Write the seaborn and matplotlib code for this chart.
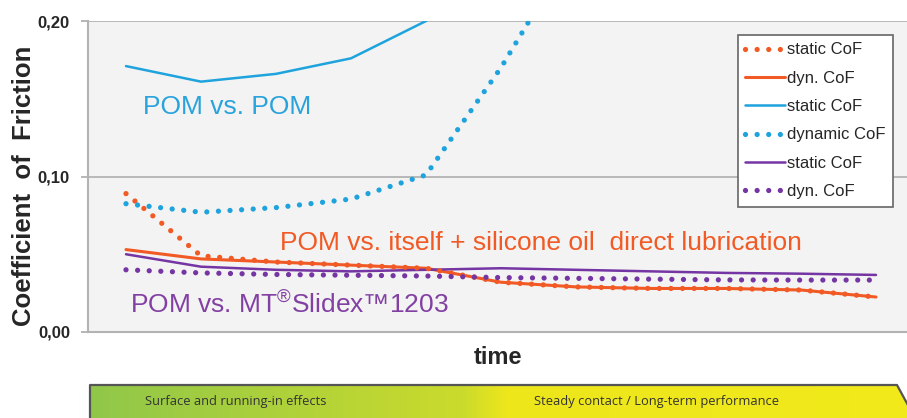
import matplotlib
matplotlib.use('Agg')
import matplotlib.pyplot as plt
import matplotlib.colors as mcolors
from matplotlib.patches import Polygon
import numpy as np
import pandas as pd
import seaborn as sns

# Daten - data
time_idx = [0, 1, 2, 3, 4, 5, 6, 7, 8, 9, 10]
orange_static = [0.089, 0.049, 0.045, 0.043, 0.041, 0.032, 0.029, 0.028, 0.028, 0.027, 0.0225]
orange_dyn = [0.053, 0.047, 0.045, 0.043, 0.041, 0.032, 0.029, 0.028, 0.028, 0.027, 0.0225]
blue_static = [0.171, 0.161, 0.166, 0.176, 0.200, 0.240]
blue_dynamic = [0.0825, 0.077, 0.080, 0.0855, 0.101, 0.170, 0.250]
purple_static = [0.050, 0.042, 0.040, 0.039, 0.040, 0.041, 0.040, 0.039, 0.038, 0.0375, 0.0367]
purple_dyn = [0.040, 0.038, 0.037, 0.0365, 0.036, 0.035, 0.0345, 0.034, 0.0335, 0.0334, 0.0334]

yticks = [0.0, 0.1, 0.2]
ytick_labels = ['0,00', '0,10', '0,20']

ORANGE = '#f15a24'
BLUE = '#1fa3dd'
PURPLE = '#7535a3'
dotted = (0, (0.001, 2.2))

sns.set_style('white')
plt.rcParams['font.family'] = ['Liberation Sans', 'DejaVu Sans']
plt.rcParams['mathtext.fontset'] = 'custom'
plt.rcParams['mathtext.rm'] = 'Liberation Sans'
plt.rcParams['mathtext.default'] = 'regular'

fig = plt.figure(figsize=(9.07, 4.18), dpi=100)
ax = fig.add_axes([88 / 907, 1 - 332 / 418, 1 - 88 / 907, 311 / 418])
ax.set_facecolor('#f3f3f3')

series = [
    (orange_static, ORANGE, dotted, 'static CoF', 3.8, 4),
    (orange_dyn, ORANGE, '-', 'dyn. CoF', 2.2, 3),
    (blue_static, BLUE, '-', 'static CoF', 1.8, 3),
    (blue_dynamic, BLUE, dotted, 'dynamic CoF', 3.8, 4),
    (purple_static, PURPLE, '-', 'static CoF', 1.8, 3),
    (purple_dyn, PURPLE, dotted, 'dyn. CoF', 3.8, 4),
]
for vals, col, ls, lab, lw, z in series:
    sns.lineplot(x=time_idx[:len(vals)], y=vals, color=col, linestyle=ls, linewidth=lw,
                 dash_capstyle='round', label=lab, ax=ax, zorder=z)

ax.set_xlim((88 - 126) / 75, (907 - 126) / 75)
ax.set_ylim(0, 0.2)
ax.set_xticks([])
ax.set_yticks(yticks)
ax.set_yticklabels(ytick_labels, fontsize=12, fontweight='bold')
ax.tick_params(axis='y', length=5, width=1.2, color='#aaaaaa', pad=8, left=True)
for y in yticks[1:]:
    ax.axhline(y, color='#b3b3b3', lw=1.3, zorder=1)
for s in ['top', 'right']:
    ax.spines[s].set_visible(False)
for s in ['left', 'bottom']:
    ax.spines[s].set_color('#b3b3b3')
    ax.spines[s].set_linewidth(1.5)

ax.set_ylabel('Coefficient  of  Friction', fontsize=18.5, fontweight='bold')
ax.yaxis.set_label_coords(-0.064, 0.47)
ax.set_xlabel('time', fontsize=17, fontweight='bold', labelpad=10)

# Beschriftungen - annotations
ax.text((143 - 126) / 75, 0.145, 'POM vs. POM', color='#2aa3dc', fontsize=19, va='center')
ax.text((280 - 126) / 75, 0.0575, 'POM vs. itself + silicone oil  direct lubrication',
        color=ORANGE, fontsize=19, va='center')
ax.text((130 - 126) / 75, 0.0175, 'POM vs. MT$^{\u00ae}$Slidex\u21221203', color='#8240a3',
        fontsize=19, va='center')

leg = ax.legend(loc='upper right', bbox_to_anchor=((893 - 88) / 819, (332 - 35) / 311),
                borderaxespad=0, fontsize=12, handlelength=2.4, handletextpad=0.1,
                labelspacing=0.8, frameon=True, fancybox=False, framealpha=1,
                borderpad=0.45)
leg.get_frame().set_edgecolor('#666666')
leg.get_frame().set_linewidth(1.2)

# Zeitpfeil - time arrow with gradient
bx = fig.add_axes([0, 0, 1, 33 / 418])
bx.set_xlim(0, 907)
bx.set_ylim(0, 33)
bx.axis('off')
cmap = mcolors.LinearSegmentedColormap.from_list(
    'gy', [(0, '#90c74a'), (0.45, '#cbdb2c'), (0.5, '#ece61c'), (1, '#f2ea1a')])
grad = np.linspace(0, 1, 512).reshape(1, -1)
im = bx.imshow(grad, cmap=cmap, extent=[90, 920, -5, 33], aspect='auto')
arrow = Polygon([(90, -5), (90, 33), (897, 33), (915, 0), (917, -5)], closed=True,
                facecolor='none', edgecolor='none')
bx.add_patch(arrow)
im.set_clip_path(arrow)
bx.plot([90, 90, 897, 915], [-5, 33, 33, 0], color='#555555', lw=1.6, clip_on=False)
bx.text(236, 16, 'Surface and running-in effects', fontsize=9.3, color='#333333',
        ha='center', va='center', family='Open Sans')
bx.text(657, 16, 'Steady contact / Long-term performance', fontsize=9.3, color='#333333',
        ha='center', va='center', family='Open Sans')

fig.savefig('out.png', dpi=100)
